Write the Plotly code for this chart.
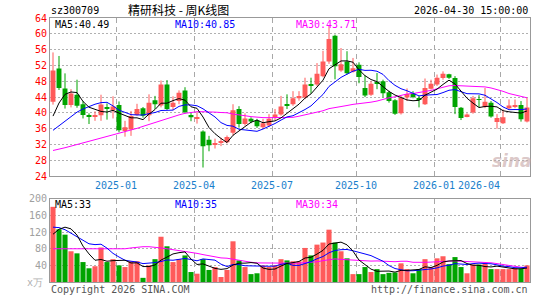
import plotly.graph_objects as go

# ---- data (weekly candles) ----
opens = [42.8, 51.2, 46.2, 42.0, 44.6, 42.2, 39.4, 39.1, 39.4, 41.4,
         40.7, 42.0, 35.4, 35.8, 39.5, 41.2, 39.4, 43.2, 41.9, 47.2,
         41.5, 43.0, 45.7, 39.5, 38.6, 35.3, 33.2, 32.1, 32.5, 32.6,
         35.0, 41.0, 37.2, 38.5, 38.1, 36.4, 36.8, 38.9, 39.6, 42.1,
         42.2, 43.7, 43.9, 47.3, 47.2, 49.3, 53.0, 59.5, 50.7, 53.0,
         50.4, 52.2, 46.3, 44.6, 47.8, 48.0, 45.2, 43.2, 39.9, 43.9,
         45.0, 43.8, 42.2, 46.1, 47.2, 48.8, 49.8, 48.8, 41.3, 39.1,
         40.1, 43.5, 41.5, 42.6, 37.7, 37.4, 41.2, 41.6, 42.0, 37.8]
highs = [55.3, 54.4, 50.0, 46.0, 48.4, 43.0, 39.9, 40.4, 44.6, 42.4,
         44.2, 42.9, 38.0, 40.5, 42.3, 41.5, 44.7, 44.3, 48.2, 48.3,
         44.2, 45.7, 46.5, 40.1, 40.2, 35.6, 34.2, 33.5, 33.7, 34.3,
         42.2, 41.7, 39.9, 38.9, 38.5, 38.5, 39.7, 41.0, 44.3, 44.7,
         45.5, 45.5, 48.9, 48.9, 52.6, 55.7, 62.0, 59.8, 56.4, 55.6,
         53.9, 52.8, 49.5, 48.0, 50.1, 48.4, 45.6, 43.5, 44.3, 46.2,
         45.5, 44.3, 48.7, 48.4, 49.7, 50.5, 49.9, 49.3, 41.5, 39.9,
         44.3, 44.5, 46.3, 43.0, 39.7, 40.9, 43.4, 43.4, 43.0, 43.8]
lows = [42.1, 45.8, 41.1, 41.4, 41.3, 38.6, 37.2, 38.0, 38.0, 38.3,
        38.6, 35.1, 34.0, 34.2, 39.3, 38.8, 37.9, 41.0, 41.4, 40.7,
        40.7, 42.2, 39.9, 37.9, 37.3, 26.2, 30.3, 31.0, 31.6, 32.3,
        34.3, 36.3, 36.8, 37.4, 36.2, 36.0, 36.4, 38.1, 39.3, 41.0,
        41.8, 43.1, 43.5, 44.9, 46.8, 49.0, 52.4, 48.5, 50.4, 49.7,
        50.2, 47.5, 44.0, 44.3, 46.0, 43.9, 42.6, 39.5, 39.6, 43.0,
        43.7, 41.4, 42.0, 45.9, 46.8, 48.4, 48.6, 39.7, 38.2, 38.9,
        39.8, 41.5, 41.2, 38.8, 36.0, 37.2, 40.9, 41.2, 37.8, 37.6]
closes = [50.7, 46.3, 42.0, 44.9, 41.8, 39.5, 39.0, 39.5, 42.1, 41.0,
          41.6, 35.6, 36.4, 39.2, 41.0, 39.3, 42.6, 42.2, 47.2, 41.0,
          42.6, 45.1, 40.2, 38.9, 39.0, 31.6, 31.8, 32.4, 32.9, 33.9,
          40.7, 37.2, 38.6, 37.8, 36.6, 37.4, 38.5, 39.6, 41.6, 41.9,
          43.7, 44.3, 47.2, 47.0, 49.9, 53.0, 58.7, 51.8, 52.3, 50.0,
          51.3, 49.1, 44.4, 47.4, 47.4, 45.0, 43.0, 39.8, 43.8, 44.8,
          44.0, 43.5, 46.3, 47.4, 48.9, 49.9, 48.9, 41.5, 38.7, 39.6,
          43.7, 43.3, 42.8, 39.1, 38.7, 38.9, 41.9, 41.9, 38.4, 41.4]
volumes = [181, 127, 114, 74, 69, 48, 33, 38, 83, 48,
           55, 40, 36, 50, 50, 10, 40, 55, 109, 86,
           48, 55, 64, 24, 20, 55, 29, 36, 12, 29,
           98, 52, 36, 19, 21, 40, 36, 40, 55, 52,
           50, 50, 82, 64, 90, 95, 126, 95, 74, 57,
           19, 19, 36, 24, 31, 19, 22, 23, 45, 31,
           21, 31, 55, 36, 57, 62, 43, 60, 36, 21,
           42, 42, 45, 31, 31, 31, 31, 34, 32, 40]

# moving-average values visible before a full window exists
ma5_head = [39.2, 42.5, 44.7, 45.3]
ma10_head = [35.6, 36.8, 38.0, 39.2, 40.2, 41.0, 41.6, 42.2, 42.6]
ma30_head = [30.5, 30.8, 31.2, 31.6, 32.0, 32.4, 32.8, 33.2, 33.6, 34.0,
             34.4, 34.8, 35.2, 35.6, 36.1, 36.6, 37.1, 37.6, 38.1, 38.6,
             39.1, 39.5, 39.9, 40.1, 40.3, 40.3, 40.3, 40.2, 40.1]
vma5_head = [115, 127, 132, 128]
vma10_head = [132, 131, 126, 118, 110, 101, 92, 90, 91]
vma30_head = [80, 80, 80, 80, 80, 80, 80, 80, 80, 80,
              80, 80, 80, 82, 84, 85, 85, 84, 82, 80,
              78, 76, 74, 72, 69, 66, 63, 60, 58]

month_slots = [11, 24, 37, 51, 64, 75]
month_labels = ["2025-01", "2025-04", "2025-07", "2025-10", "2026-01", "2026-04"]
price_ticks = [24, 28, 32, 36, 40, 44, 48, 52, 56, 60, 64]
vol_ticks = [40, 80, 120, 160, 200]

ma_price_labels = ["MA5:40.49", "MA10:40.85", "MA30:43.71"]
ma_vol_labels = ["MA5:33", "MA10:35", "MA30:34"]

RED = "#FF5A5A"
GREEN = "#00A400"
MA_COLORS = ["#000000", "#0000FF", "#FF00FF"]
MONO = "DejaVu Sans Mono"

n = len(closes)
xs = list(range(n))


def moving(vals, w, head):
    out = []
    for i in range(len(vals)):
        if i >= w - 1:
            out.append(sum(vals[i - w + 1:i + 1]) / w)
        else:
            out.append(head[i])
    return out


up = [c >= o for o, c in zip(opens, closes)]
colors = [RED if u else GREEN for u in up]

fig = go.Figure()

# candle bodies
body_base = [min(o, c) for o, c in zip(opens, closes)]
body_h = [max(abs(c - o), 0.15) for o, c in zip(opens, closes)]
fig.add_trace(go.Bar(x=xs, y=body_h, base=body_base, width=0.82,
                     marker=dict(color=colors, line=dict(width=0)),
                     xaxis="x", yaxis="y", hoverinfo="skip"))

# wicks
for col, flag in ((RED, True), (GREEN, False)):
    wx, wy = [], []
    for i in xs:
        if up[i] == flag:
            wx += [i, i, None]
            wy += [lows[i], highs[i], None]
    fig.add_trace(go.Scatter(x=wx, y=wy, mode="lines",
                             line=dict(color=col, width=1),
                             xaxis="x", yaxis="y", hoverinfo="skip"))

# price MAs
for w, head, col in ((30, ma30_head, MA_COLORS[2]), (10, ma10_head, MA_COLORS[1]),
                     (5, ma5_head, MA_COLORS[0])):
    fig.add_trace(go.Scatter(x=xs, y=moving(closes, w, head), mode="lines",
                             line=dict(color=col, width=1),
                             xaxis="x", yaxis="y", hoverinfo="skip"))

# volume bars
fig.add_trace(go.Bar(x=xs, y=volumes, width=0.85,
                     marker=dict(color=colors, line=dict(width=0)),
                     xaxis="x2", yaxis="y2", hoverinfo="skip"))
for w, head, col in ((30, vma30_head, MA_COLORS[2]), (10, vma10_head, MA_COLORS[1]),
                     (5, vma5_head, MA_COLORS[0])):
    fig.add_trace(go.Scatter(x=xs, y=moving(volumes, w, head), mode="lines",
                             line=dict(color=col, width=1),
                             xaxis="x2", yaxis="y2", hoverinfo="skip"))

W, H = 545, 300
L, R, T, B = 50, 15, 18, 15
PW, PH = W - L - R, H - T - B


def px(xp):
    return (xp - L) / PW


def py(yp):
    return (H - B - yp) / PH


grid_x = [s - 0.5 for s in month_slots]
xax = dict(range=[-0.5, n - 0.5], tickvals=grid_x, showticklabels=False,
           showgrid=True, gridcolor="#A8A8A8", griddash="5px,4px", gridwidth=1,
           showline=True, mirror=True, linecolor="#999999", linewidth=1,
           zeroline=False, ticks="", fixedrange=True)

fig.update_layout(
    width=W, height=H,
    margin=dict(l=L, r=R, t=T, b=B, pad=0),
    paper_bgcolor="white", plot_bgcolor="white",
    showlegend=False, barmode="overlay",
    xaxis=dict(domain=[0, 1], anchor="y", **xax),
    xaxis2=dict(domain=[0, 1], anchor="y2", matches="x", **xax),
    yaxis=dict(domain=[py(178), 1], range=[24, 64], tickvals=price_ticks,
               tickfont=dict(family=MONO, size=10, color="#FF0000"),
               showgrid=True, gridcolor="#B0B0B0", griddash="2px,2px",
               showline=True, mirror=True, linecolor="#999999", linewidth=1,
               zeroline=False, ticks="", fixedrange=True),
    yaxis2=dict(domain=[0, py(201)], range=[0, 200], tickvals=vol_ticks,
                tickfont=dict(family=MONO, size=10, color="#A0A0A0"),
                showgrid=True, gridcolor="#B0B0B0", griddash="2px,2px",
                showline=True, mirror=True, linecolor="#999999", linewidth=1,
                zeroline=False, ticks="", fixedrange=True),
)

ann = []


def text(t, xp, yp, anchor="left", color="#000", size=10, family=MONO):
    ann.append(dict(text=t, x=px(xp), y=py(yp), xref="paper", yref="paper",
                    xanchor=anchor, yanchor="middle", showarrow=False,
                    font=dict(family=family, size=size, color=color)))


text("sz300709", 49, 10)
text("精研科技 - 周K线图", 178, 9, anchor="center", size=12,
     family="Noto Sans CJK SC")
text("2026-04-30 15:00:00", 530, 10, anchor="right")
for lab, xp, col in zip(ma_price_labels, (53, 173, 294), MA_COLORS):
    text(lab, xp, 25, color=col)
for lab, xp, col in zip(ma_vol_labels, (53, 173, 294), MA_COLORS):
    text(lab, xp, 207, color=col)
text("x万", 45, 286, anchor="right", color="#B0B0B0")
text("Copyright 2026 SINA.COM", 49, 293, color="#555555")
text("http://finance.sina.com.cn", 530, 293, anchor="right", color="#555555")
text("<b><i>sina</i></b>", 512, 163, anchor="center", color="rgba(200,170,170,0.65)",
     size=17, family="DejaVu Sans")

shifts = [0, 0, 0, 0, 0, -21]
for s, lab, sh in zip(grid_x, month_labels, shifts):
    ann.append(dict(text=lab, x=s, y=py(187), xref="x", yref="paper",
                    xanchor="center", yanchor="middle", xshift=sh, showarrow=False,
                    font=dict(family=MONO, size=10, color="#1A7FCC")))

fig.update_layout(annotations=ann)
fig.write_html("out.html")
